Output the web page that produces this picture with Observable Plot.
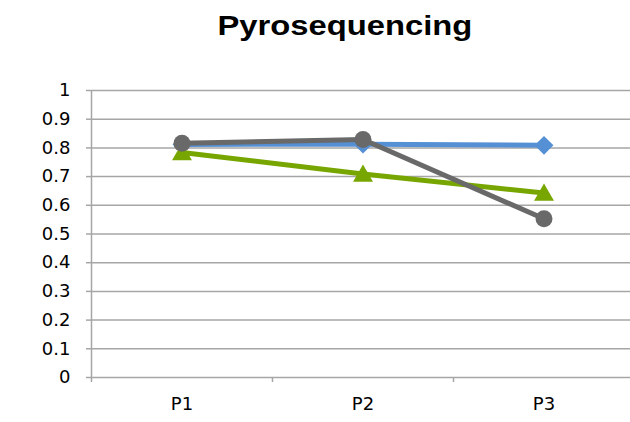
<!DOCTYPE html>
<html>
<head>
<meta charset="utf-8">
<script src="https://cdn.jsdelivr.net/npm/d3@7"></script>
<script src="https://cdn.jsdelivr.net/npm/@observablehq/plot@0.6"></script>
<style>
  html, body { margin: 0; padding: 0; background: #fff; }
  #wrap { width: 630px; height: 422px; overflow: hidden; }
  #title { height: 60px; box-sizing: border-box; padding-top: 10px; padding-left: 60px; text-align: center;
    font-family: "Liberation Sans", Arial, sans-serif; font-weight: bold; font-size: 28px; line-height: 32px; color: #000; }
  #title span { display: inline-block; transform: scaleX(1.17); transform-origin: center; }
</style>
</head>
<body>
<div id="wrap">
  <div id="title"><span>Pyrosequencing</span></div>
  <div id="chart"></div>
</div>
<script>
const categories = ["P1", "P2", "P3"];
const seriesBlue = [0.812, 0.813, 0.809];
const seriesGreen = [0.784, 0.709, 0.643];
const seriesGray = [0.816, 0.829, 0.553];
const yTicks = [0, 0.1, 0.2, 0.3, 0.4, 0.5, 0.6, 0.7, 0.8, 0.9, 1];

const toRows = (vals) => vals.map((v, i) => ({pos: i + 0.5, cat: categories[i], v}));
const blue = toRows(seriesBlue), green = toRows(seriesGreen), gray = toRows(seriesGray);

const cBlue = "#5690d4", cGreen = "#78a600", cGray = "#696969", cGrid = "#a6a6a6";
const font = "'DejaVu Sans', sans-serif";

const chart = Plot.plot({
  width: 630,
  height: 362,
  marginLeft: 91,
  marginRight: 0,
  marginTop: 30,
  marginBottom: 45,
  style: {fontFamily: font, fontSize: "18px", color: "#000", background: "#fff"},
  x: {type: "linear", domain: [0, 3], range: [91, 634]},
  y: {domain: [0, 1]},
  marks: [
    Plot.ruleY(yTicks, {stroke: cGrid, strokeWidth: 1.5}),
    Plot.ruleX([0], {y1: 0, y2: 1, stroke: cGrid, strokeWidth: 1.5}),
    Plot.axisY({ticks: yTicks, tickSize: 5, tickPadding: 16, tickFormat: d => String(d), stroke: cGrid, strokeWidth: 1.5, label: null, fill: "#000", fontSize: 18}),
    Plot.axisX({ticks: [0, 1, 2], tickSize: 5, tickFormat: () => "", stroke: cGrid, strokeWidth: 1.5, label: null}),
    Plot.axisX({ticks: [0.5, 1.5, 2.5], tickSize: 0, tickPadding: 20, tickFormat: d => categories[Math.floor(d)], label: null, fill: "#000", fontSize: 18}),
    Plot.line(blue, {x: "pos", y: "v", stroke: cBlue, strokeWidth: 5}),
    Plot.dot(blue, {x: "pos", y: "v", symbol: "diamond2", r: 8.5, fill: cBlue, stroke: null}),
    Plot.line(green, {x: "pos", y: "v", stroke: cGreen, strokeWidth: 5}),
    Plot.dot(green, {x: "pos", y: "v", symbol: "triangle2", r: 9.5, fill: cGreen, stroke: null, dy: 2}),
    Plot.line(gray, {x: "pos", y: "v", stroke: cGray, strokeWidth: 5}),
    Plot.dot(gray, {x: "pos", y: "v", symbol: "circle", r: 8.5, fill: cGray, stroke: null})
  ]
});
document.getElementById("chart").appendChild(chart);
</script>
</body>
</html>
